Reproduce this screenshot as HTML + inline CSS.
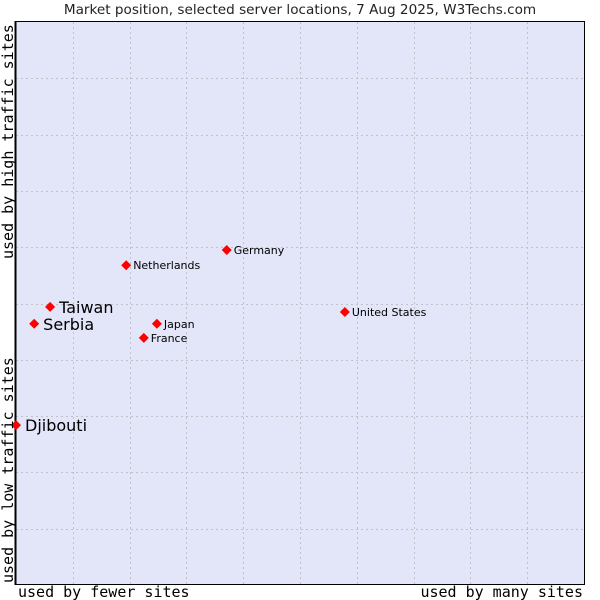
<!DOCTYPE html>
<html><head><meta charset="utf-8"><style>
body{margin:0;background:#fff;width:600px;height:600px;overflow:hidden}
svg{display:block;font-family:"DejaVu Sans","Liberation Sans",sans-serif}
</style></head><body>
<svg id="chart" width="600" height="600" viewBox="0 0 600 600">
<text x="300" y="14" text-anchor="middle" font-size="13.6" fill="#222">Market position, selected server locations, 7 Aug 2025, W3Techs.com</text>
<rect x="15.5" y="21.5" width="569" height="563" fill="#e3e5f8"/>
<g id="grid"></g>
<rect x="15.5" y="21.5" width="569" height="563" fill="none" stroke="#000" stroke-width="1"/>
<line x1="15.5" y1="21" x2="15.5" y2="585" stroke="#000" stroke-width="2"/>
<g id="points"></g>
<text x="18" y="597" font-family="DejaVu Sans Mono,Liberation Mono,monospace" font-size="15" fill="#000">used by fewer sites</text>
<text x="583" y="597" text-anchor="end" font-family="DejaVu Sans Mono,Liberation Mono,monospace" font-size="15" fill="#000">used by many sites</text>
<text transform="translate(13,583) rotate(-90)" font-family="DejaVu Sans Mono,Liberation Mono,monospace" font-size="15" fill="#000">used by low traffic sites</text>
<text transform="translate(13,259) rotate(-90)" font-family="DejaVu Sans Mono,Liberation Mono,monospace" font-size="15" fill="#000">used by high traffic sites</text>
</svg>
<script>
const countries=["Djibouti","Serbia","Taiwan","France","Japan","Netherlands","Germany","United States"];
const xValues=[0,3.2,6.0,22.5,24.8,19.4,37.1,57.9];
const yValues=[28.4,46.4,49.4,43.9,46.4,56.8,59.5,48.5];
const bigLabel=[true,true,true,false,false,false,false,false];
const L=16,R=584,T=22,B=585;
function xs(v){return L+v/100*(R-L);}
function ys(v){return B-v/100*(B-T);}
const NS="http://www.w3.org/2000/svg";
const g=document.getElementById('grid');
for(let i=1;i<10;i++){
  const vx=document.createElementNS(NS,'line');
  const x=Math.round(xs(i*10))+0.5;
  vx.setAttribute('x1',x);vx.setAttribute('x2',x);vx.setAttribute('y1',T);vx.setAttribute('y2',B);
  vx.setAttribute('stroke','#c0c0c8');vx.setAttribute('stroke-dasharray','2,3');
  
  
  g.appendChild(vx);
  const hy=document.createElementNS(NS,'line');
  const y=Math.round(ys(i*10))+0.5;
  hy.setAttribute('x1',L);hy.setAttribute('x2',R);hy.setAttribute('y1',y);hy.setAttribute('y2',y);
  hy.setAttribute('stroke','#c0c0c8');hy.setAttribute('stroke-dasharray','2,3');
  
  
  g.appendChild(hy);
}
const p=document.getElementById('points');
countries.forEach((c,i)=>{
  const x=xs(xValues[i]),y=ys(yValues[i]);
  const m=document.createElementNS(NS,'polygon');
  m.setAttribute('points',`${x},${y-5} ${x+5},${y} ${x},${y+5} ${x-5},${y}`);
  m.setAttribute('fill','#ff0000');
  
  
  p.appendChild(m);
  const t=document.createElementNS(NS,'text');
  const big=bigLabel[i];
  t.setAttribute('x',x+(big?9:7));t.setAttribute('y',y+(big?6:4));
  t.setAttribute('font-size',big?16:11);t.setAttribute('fill','#000');
  t.textContent=c;
  
  
  p.appendChild(t);
});
</script>
</body></html>
